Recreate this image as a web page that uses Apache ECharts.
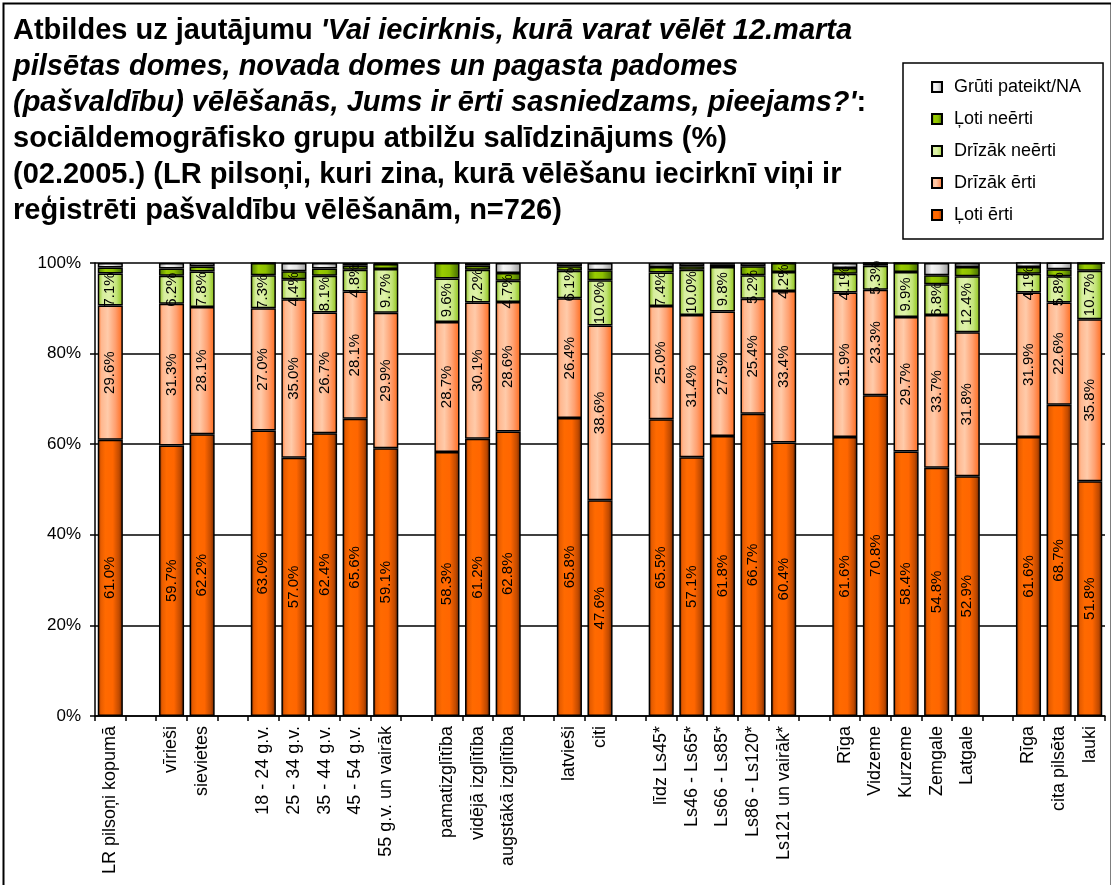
<!DOCTYPE html>
<html>
<head>
<meta charset="utf-8">
<script src="https://cdn.jsdelivr.net/npm/echarts@6/dist/echarts.min.js"></script>
<style>
  html, body { margin: 0; padding: 0; background: #fff; }
  #chart { width: 1111px; height: 885px; }
</style>
</head>
<body>
<div id="chart"></div>
<script>
// kategorijas ('' = atstarpe starp grupām)
const categories = [
  'LR pilsoņi kopumā', '', 'vīrieši', 'sievietes', '',
  '18 - 24 g.v.', '25 - 34 g.v.', '35 - 44 g.v.', '45 - 54 g.v.', '55 g.v. un vairāk', '',
  'pamatizglītība', 'vidējā izglītība', 'augstākā izglītība', '',
  'latvieši', 'citi', '',
  'līdz Ls45*', 'Ls46 - Ls65*', 'Ls66 - Ls85*', 'Ls86 - Ls120*', 'Ls121 un vairāk*', '',
  'Rīga', 'Vidzeme', 'Kurzeme', 'Zemgale', 'Latgale', '',
  'Rīga', 'cita pilsēta', 'lauki'
]
const lotiErti = [61.0, null, 59.7, 62.2, null, 63.0, 57.0, 62.4, 65.6, 59.1, null, 58.3, 61.2, 62.8, null, 65.8, 47.6, null, 65.5, 57.1, 61.8, 66.7, 60.4, null, 61.6, 70.8, 58.4, 54.8, 52.9, null, 61.6, 68.7, 51.8]
const drizakErti = [29.6, null, 31.3, 28.1, null, 27.0, 35.0, 26.7, 28.1, 29.9, null, 28.7, 30.1, 28.6, null, 26.4, 38.6, null, 25.0, 31.4, 27.5, 25.4, 33.4, null, 31.9, 23.3, 29.7, 33.7, 31.8, null, 31.9, 22.6, 35.8]
const drizakNeerti = [7.1, null, 6.2, 7.8, null, 7.3, 4.4, 8.1, 4.8, 9.7, null, 9.6, 7.2, 4.7, null, 6.1, 10.0, null, 7.4, 10.0, 9.8, 5.2, 4.2, null, 4.1, 5.3, 9.9, 6.8, 12.4, null, 4.1, 5.8, 10.7]
const lotiNeerti = [1.3, null, 1.6, 1.1, null, 2.7, 1.8, 1.6, 0.9, 1.1, null, 3.4, 0.9, 1.7, null, 1.0, 2.2, null, 1.2, 0.8, 0.5, 2.0, 2.0, null, 1.3, 0.6, 2.0, 2.0, 2.0, null, 1.5, 1.5, 1.7]
const grutiPateikt = [1.0, null, 1.2, 0.8, null, 0.0, 1.8, 1.2, 0.6, 0.2, null, 0.0, 0.6, 2.2, null, 0.7, 1.6, null, 0.9, 0.7, 0.4, 0.7, 0.0, null, 1.1, 0.0, 0.0, 2.7, 0.9, null, 1.4, 1.5, 0.0]
const yTicks = ['0%', '20%', '40%', '60%', '80%', '100%']

const FONT = '"Liberation Sans", Arial, sans-serif'

function grad(stops) {
  return {
    type: 'linear', x: 0, y: 0, x2: 1, y2: 0,
    colorStops: stops.map(s => ({ offset: s[0], color: s[1] }))
  }
}

function mkSeries(name, data, color, withLabel) {
  return {
    name: name,
    type: 'bar',
    stack: 'total',
    data: data,
    barCategoryGap: '18%',
    itemStyle: { color: color, borderColor: '#000', borderWidth: 1.5 },
    label: {
      show: withLabel,
      position: 'inside',
      rotate: 90,
      fontFamily: FONT,
      fontSize: 15,
      color: '#000',
      formatter: p => p.value == null ? '' : p.value.toFixed(1) + '%'
    },
    emphasis: { disabled: true }
  }
}

const chart = echarts.init(document.getElementById('chart'))
chart.setOption({
  animation: false,
  backgroundColor: '#fff',
  textStyle: { fontFamily: FONT },
  title: {
    left: 8,
    top: 8,
    text: "{b|Atbildes uz jautājumu }{i|'Vai iecirknis, kurā varat vēlēt 12.marta}\n" +
      '{i|pilsētas domes, novada domes un pagasta padomes}\n' +
      "{i|(pašvaldību) vēlēšanās, Jums ir ērti sasniedzams, pieejams?'}{b|:}\n" +
      '{b|sociāldemogrāfisko grupu atbilžu salīdzinājums (%)}\n' +
      '{b|(02.2005.) (LR pilsoņi, kuri zina, kurā vēlēšanu iecirknī viņi ir}\n' +
      '{b|reģistrēti pašvaldību vēlēšanām, n=726)}',
    textStyle: {
      rich: {
        b: { fontFamily: FONT, fontWeight: 'bold', fontSize: 29, lineHeight: 36, color: '#000' },
        i: { fontFamily: FONT, fontWeight: 'bold', fontStyle: 'italic', fontSize: 29, lineHeight: 36, color: '#000' }
      }
    }
  },
  legend: {
    orient: 'vertical',
    left: 903,
    top: 63,
    data: ['Grūti pateikt/NA', 'Ļoti neērti', 'Drīzāk neērti', 'Drīzāk ērti', 'Ļoti ērti'],
    icon: 'rect',
    itemWidth: 10,
    itemHeight: 10,
    itemGap: 14,
    padding: [15, 22, 15, 28],
    borderColor: '#000',
    borderWidth: 1.5,
    backgroundColor: '#fff',
    textStyle: { fontFamily: FONT, fontSize: 18, color: '#000', padding: [0, 0, 0, 7] },
    selectedMode: false
  },
  grid: { left: 95, right: 6, top: 263, bottom: 169 },
  xAxis: {
    type: 'category',
    data: categories,
    axisLine: { lineStyle: { color: '#000', width: 1.5 } },
    axisTick: { show: true, length: 5, lineStyle: { color: '#000', width: 1.5 } },
    axisLabel: {
      rotate: 90,
      interval: 0,
      fontFamily: FONT,
      fontSize: 18,
      color: '#000',
      margin: 10
    }
  },
  yAxis: {
    type: 'value',
    min: 0,
    max: 100,
    interval: 20,
    axisLine: { show: true, lineStyle: { color: '#000', width: 1.5 } },
    axisTick: { show: true, length: 5, lineStyle: { color: '#000', width: 1.5 } },
    splitLine: { show: true, lineStyle: { color: '#000', width: 1.5 } },
    axisLabel: {
      fontFamily: FONT,
      fontSize: 17,
      color: '#000',
      margin: 14,
      formatter: v => yTicks[v / 20]
    }
  },
  series: [
    mkSeries('Ļoti ērti', lotiErti,
      grad([[0, '#6e2600'], [0.12, '#e65c00'], [0.3, '#ff6a00'], [0.6, '#ff6600'], [0.85, '#c04a00'], [1, '#662200']]), true),
    mkSeries('Drīzāk ērti', drizakErti,
      grad([[0, '#ff7a33'], [0.15, '#ffb890'], [0.4, '#ffcbaa'], [0.7, '#ffa070'], [1, '#ff6a1a']]), true),
    mkSeries('Drīzāk neērti', drizakNeerti,
      grad([[0, '#8dbf1a'], [0.2, '#d6ee9e'], [0.45, '#dff2aa'], [0.75, '#c2e477'], [1, '#8cbf10']]), true),
    mkSeries('Ļoti neērti', lotiNeerti,
      grad([[0, '#4d7a00'], [0.3, '#99cc00'], [0.6, '#8cbf00'], [1, '#3f6600']]), false),
    mkSeries('Grūti pateikt/NA', grutiPateikt,
      grad([[0, '#a0a0a0'], [0.3, '#f6f6f6'], [0.6, '#e4e4e4'], [1, '#9a9a9a']]), false)
  ],
  graphic: [{
    type: 'rect',
    left: 1,
    top: 1,
    shape: { width: 1108, height: 890 },
    style: { fill: 'none', stroke: '#000', lineWidth: 2 },
    silent: true
  }]
})
</script>
</body>
</html>
